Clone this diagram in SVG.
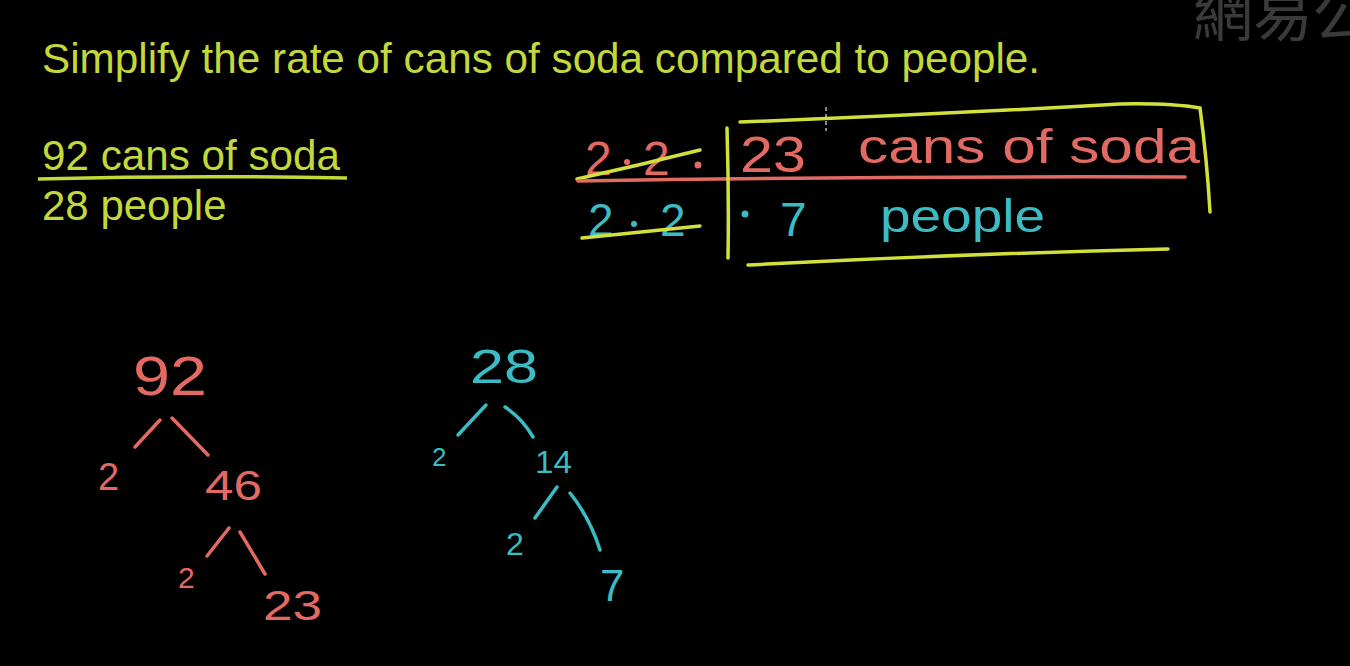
<svg xmlns="http://www.w3.org/2000/svg" width="1350" height="666" viewBox="0 0 1350 666">
<style>
.print{font-family:"Liberation Sans",Arial,sans-serif;fill:#c3d83a}
.hand{font-family:"Liberation Sans",Arial,sans-serif}
.red{fill:#e36a62}
.teal{fill:#3bbcc4}
.rl{stroke:#e36a62;stroke-width:3.5;fill:none;stroke-linecap:round}
.tl{stroke:#3bbcc4;stroke-width:3.5;fill:none;stroke-linecap:round}
.yl{stroke:#d3e03c;stroke-width:3.5;fill:none;stroke-linecap:round}
</style>
<rect width="1350" height="666" fill="#000"/>
<text x="1193" y="36" font-family="'Noto Sans CJK TC','Noto Sans CJK SC',sans-serif" font-size="60" fill="#3a3a3a">網易公</text>
<g id="title"><text class="print" x="42" y="73" font-size="42" textLength="998" lengthAdjust="spacingAndGlyphs">Simplify the rate of cans of soda compared to people.</text></g>
<g id="fraction">
<text class="print" x="42" y="170" font-size="42" textLength="298" lengthAdjust="spacingAndGlyphs">92 cans of soda</text>
<path d="M38,179 Q190,175 347,178" stroke="#c3d83a" stroke-width="3.5" fill="none"/>
<text class="print" x="42" y="220" font-size="42">28 people</text>
</g>
<g id="work">
<text class="hand red" x="585" y="175" font-size="48">2</text>
<circle cx="627" cy="162" r="3" fill="#e36a62"/>
<text class="hand red" x="643" y="175" font-size="48">2</text>
<circle cx="698" cy="165" r="3.5" fill="#e36a62"/>
<path class="yl" d="M577,179 Q640,165 700,150"/>
<text class="hand red" x="740" y="172" font-size="50" textLength="66" lengthAdjust="spacingAndGlyphs">23</text>
<text class="hand red" x="858" y="163" font-size="48" textLength="342" lengthAdjust="spacingAndGlyphs">cans of soda</text>
<path class="rl" d="M578,181 Q880,176 1185,177"/>
<line x1="826" y1="107" x2="826" y2="131" stroke="#888" stroke-width="2" stroke-dasharray="4,3"/>
<text class="hand teal" x="588" y="236" font-size="46">2</text>
<circle cx="634" cy="224" r="3" fill="#3bbcc4"/>
<text class="hand teal" x="660" y="236" font-size="46">2</text>
<path class="yl" d="M582,238 Q640,232 700,226"/>
<circle cx="745" cy="214" r="3.5" fill="#3bbcc4"/>
<text class="hand teal" x="780" y="236" font-size="48">7</text>
<text class="hand teal" x="880" y="232" font-size="46" textLength="165" lengthAdjust="spacingAndGlyphs">people</text>
<path class="yl" d="M727,128 Q729,195 728,258"/>
<path class="yl" d="M740,122 Q930,115 1120,104 Q1170,103 1200,108 Q1207,160 1210,212"/>
<path class="yl" d="M748,265 Q960,254 1168,249"/>
</g>
<g id="tree92">
<g id="n92"><text class="hand red" x="133" y="395" font-size="55" textLength="74" lengthAdjust="spacingAndGlyphs">92</text></g>
<g id="n2a"><text class="hand red" x="98" y="490" font-size="38">2</text></g>
<g id="n46"><text class="hand red" x="205" y="500" font-size="42" textLength="57" lengthAdjust="spacingAndGlyphs">46</text></g>
<g id="n2b"><text class="hand red" x="178" y="588" font-size="30">2</text></g>
<g id="n23"><text class="hand red" x="263" y="620" font-size="42" textLength="59" lengthAdjust="spacingAndGlyphs">23</text></g>
</g>
<g id="tree28">
<g id="n28"><text class="hand teal" x="470" y="383" font-size="48" textLength="68" lengthAdjust="spacingAndGlyphs">28</text></g>
<g id="n2c"><text class="hand teal" x="432" y="466" font-size="26">2</text></g>
<g id="n14"><text class="hand teal" x="535" y="473" font-size="32" textLength="37" lengthAdjust="spacingAndGlyphs">14</text></g>
<g id="n2d"><text class="hand teal" x="506" y="555" font-size="32">2</text></g>
<g id="n7"><text class="hand teal" x="600" y="601" font-size="44">7</text></g>
</g>
<g id="connectors">
<line class="rl" x1="160" y1="420" x2="135" y2="447"/>
<line class="rl" x1="172" y1="418" x2="208" y2="455"/>
<line class="rl" x1="229" y1="528" x2="207" y2="556"/>
<line class="rl" x1="240" y1="532" x2="265" y2="574"/>
<line class="tl" x1="486" y1="405" x2="458" y2="435"/>
<path class="tl" d="M505,407 Q522,418 533,437"/>
<line class="tl" x1="557" y1="487" x2="535" y2="518"/>
<path class="tl" d="M570,493 Q590,518 600,550"/>
</g>
</svg>
